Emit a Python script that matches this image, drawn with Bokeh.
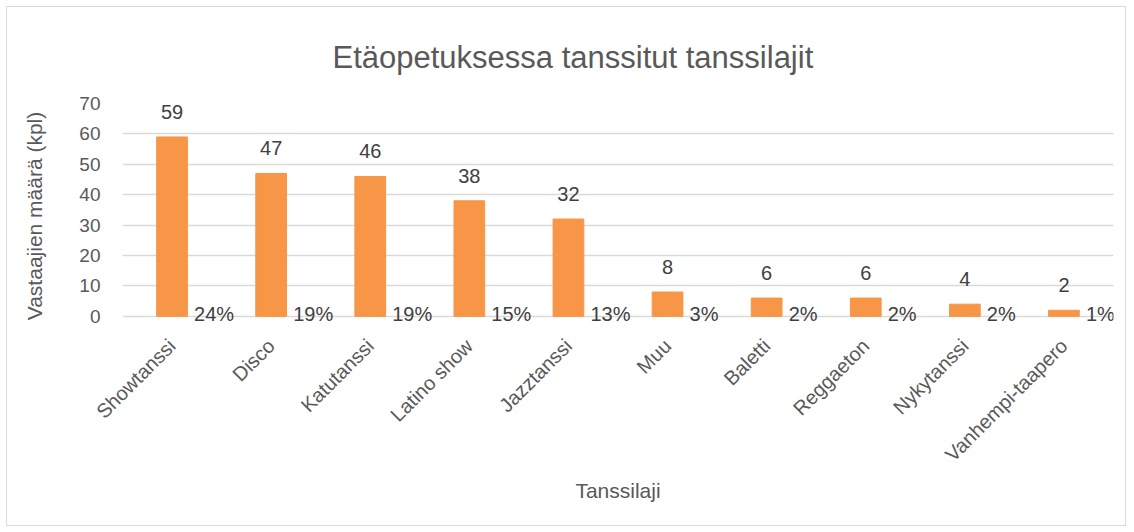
import math
from bokeh.plotting import figure
from bokeh.models import Range1d, ColumnDataSource
from bokeh.core.properties import value
from bokeh.embed import file_html
from bokeh.resources import INLINE

categories = ["Showtanssi", "Disco", "Katutanssi", "Latino show", "Jazztanssi",
              "Muu", "Baletti", "Reggaeton", "Nykytanssi", "Vanhempi-taapero"]
counts = [59, 47, 46, 38, 32, 8, 6, 6, 4, 2]
percents = [24, 19, 19, 15, 13, 3, 2, 2, 2, 1]
y_ticks = [0, 10, 20, 30, 40, 50, 60, 70]

FONT = "Liberation Sans"
GREY = "#595959"
DARK = "#404040"

src = ColumnDataSource(dict(
    cat=categories,
    count=counts,
    count_lbl=[str(c) for c in counts],
    pct_lbl=[f"{p}%" for p in percents],
    zero=[0] * len(categories),
))

# y range extends slightly below zero so the percentage labels at the base are not clipped
p = figure(x_range=categories, y_range=Range1d(-4, 70),
           width=1120, height=520, output_backend="svg", toolbar_location=None,
           min_border_left=115, min_border_right=14, min_border_top=96, min_border_bottom=199,
           title="Etäopetuksessa tanssitut tanssilajit")
p.styles = {"border": "1px solid #d9d9d9", "margin-left": "6px", "margin-top": "6px"}
p.outline_line_color = None
p.background_fill_color = "white"

p.title.align = "left"
p.title.offset = 210
p.title.standoff = 58
p.title.text_font = FONT
p.title.text_font_size = "31px"
p.title.text_font_style = "normal"
p.title.text_color = GREY

p.vbar(x="cat", top="count", width=0.31, source=src, color="#F79646")
p.text(x="cat", y="count", text="count_lbl", source=src, text_align="center",
       text_baseline="bottom", y_offset=-18, text_font=value(FONT),
       text_font_size="20px", text_color=DARK)
p.text(x="cat", y="zero", text="pct_lbl", source=src, text_align="left",
       text_baseline="middle", x_offset=22, y_offset=-2, text_font=value(FONT),
       text_font_size="20px", text_color=DARK)

p.xgrid.grid_line_color = None
p.ygrid.grid_line_color = "#d9d9d9"
p.ygrid.grid_line_width = 1.5
p.yaxis.ticker = y_ticks

for ax in (p.xaxis, p.yaxis):
    ax.axis_line_color = None
    ax.major_tick_line_color = None
    ax.minor_tick_line_color = None
    ax.major_tick_out = 0
    ax.major_label_text_font = FONT
    ax.major_label_text_color = GREY
    ax.axis_label_text_font = FONT
    ax.axis_label_text_font_size = "21px"
    ax.axis_label_text_color = GREY
    ax.axis_label_text_font_style = "normal"

p.yaxis.major_label_text_font_size = "19px"
p.xaxis.major_label_text_font_size = "20px"
p.yaxis.axis_label = "Vastaajien määrä (kpl)"
p.yaxis.major_label_standoff = 22
p.yaxis.axis_label_standoff = 30
p.xaxis.axis_label = "Tanssilaji"
p.xaxis.major_label_orientation = math.pi / 4
p.xaxis.major_label_standoff = 14
p.xaxis.axis_label_standoff = 3

open("out.html", "w").write(file_html(p, INLINE))
